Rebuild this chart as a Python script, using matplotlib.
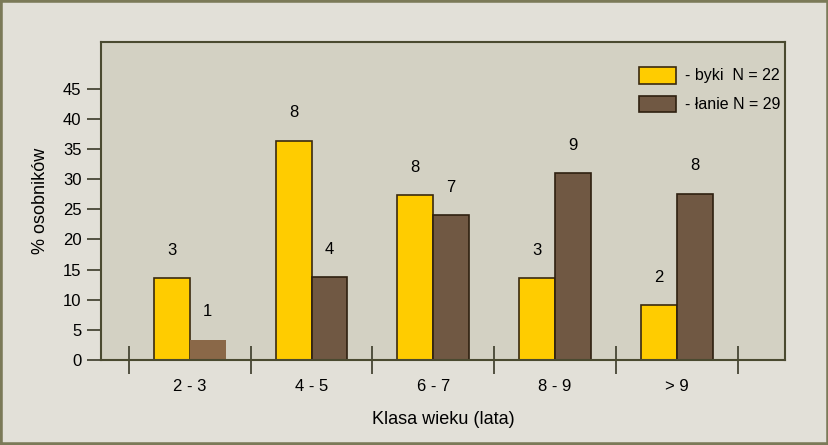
import numpy as np
import matplotlib.pyplot as plt
from matplotlib.patches import Rectangle, Patch

plt.rcParams['font.family'] = ['Liberation Sans', 'DejaVu Sans']

classes = ["2 - 3", "4 - 5", "6 - 7", "8 - 9", "> 9"]
byki = [13.6, 36.4, 27.3, 13.6, 9.1]
lanie = [3.4, 13.8, 24.1, 31.0, 27.6]
byki_n = ["3", "8", "8", "3", "2"]
lanie_n = ["1", "4", "7", "9", "8"]

bg = "#e2e0d8"
plot_bg = "#d3d1c3"
olive = "#7b7a58"
yellow = "#ffcc00"
brown = "#705843"

def main():
    fig = plt.figure(figsize=(8.29, 4.45), dpi=100, facecolor=bg)
    fig.patches.append(Rectangle((0, 0), 1, 1, transform=fig.transFigure,
                                 fill=False, edgecolor=olive, linewidth=4))
    ax = fig.add_axes([0.1218, 0.191, 0.8252, 0.715])
    ax.set_facecolor(plot_bg)

    x = np.arange(len(classes))
    w = 0.295
    ax.bar(x - w / 2, byki, w, color=yellow, edgecolor="#3a2a10", linewidth=1.2)
    bars = ax.bar(x + w / 2, lanie, w, color=brown, edgecolor="#2e2010", linewidth=1.2)
    # first brown bar in the original is lighter and unframed
    bars[0].set_facecolor("#8a6848")
    bars[0].set_linewidth(0)

    for i in range(len(classes)):
        ax.text(x[i] - w / 2, byki[i] + 4.6, byki_n[i], ha="center", va="center", fontsize=12)
        ax.text(x[i] + w / 2, lanie[i] + 4.6, lanie_n[i], ha="center", va="center", fontsize=12)

    ax.set_xlim(-0.73, 4.89)
    ax.set_ylim(0, 52.8)
    ax.set_yticks(np.arange(0, 50, 5))
    ax.tick_params(axis="y", length=10, width=1.2, color="#3a3a28", labelsize=12, pad=4)
    ax.set_xticks(x)
    ax.set_xticklabels(classes, fontsize=12)
    ax.tick_params(axis="x", which="major", length=0, pad=14)
    ax.set_xticks(np.arange(-0.5, 5.0, 1.0), minor=True)
    ax.tick_params(axis="x", which="minor", direction="inout", length=20, width=1.2, color="#3a3a28")

    for s in ax.spines.values():
        s.set_color("#4a4a30")
        s.set_linewidth(1.5)

    ax.set_ylabel("% osobników", fontsize=13, labelpad=10)
    ax.set_xlabel("Klasa wieku (lata)", fontsize=13, labelpad=12)

    handles = [Patch(facecolor=yellow, edgecolor="#3a2a10", linewidth=1.2, label="- byki  N = 22"),
               Patch(facecolor=brown, edgecolor="#2e2010", linewidth=1.2, label="- łanie N = 29")]
    ax.legend(handles=handles, loc="upper left", bbox_to_anchor=(0.777, 0.942), frameon=False,
              fontsize=11.5, handlelength=2.3, handleheight=1.25, labelspacing=0.75,
              handletextpad=0.6, borderaxespad=0)

    fig.savefig("out.png", dpi=100, facecolor=bg)

if __name__ == "__main__":
    main()
